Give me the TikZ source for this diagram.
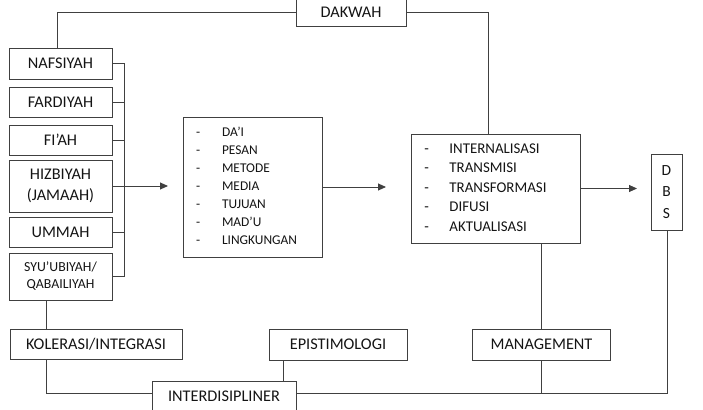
\documentclass[tikz,border=0pt]{standalone}
\usepackage{fontspec}
\setmainfont{Carlito}
\usetikzlibrary{arrows.meta,calc,positioning}
\definecolor{DiagramLine}{RGB}{64,64,64}
\definecolor{DiagramText}{RGB}{20,20,20}

\begin{document}
\begin{tikzpicture}[x=1pt, y=-1pt, node distance=8pt, >={Triangle[length=8pt,width=7pt]}]
    \tikzstyle{box}=[draw=DiagramLine, line width=0.9pt, inner sep=0pt, outer sep=0pt, align=center, text=DiagramText, font=\fontsize{16.3}{21}\selectfont]
    \tikzstyle{side}=[box, minimum width=103pt, minimum height=30pt]
    \tikzstyle{link}=[draw=DiagramLine, line width=0.9pt]
    \useasboundingbox (0,0) rectangle (703,409);

    \node[box, minimum width=110pt, minimum height=27pt] (dakwah) at (351,12.5) {DAKWAH};

    \node[side, minimum height=31pt] (nafs) at (60.5,63.5) {NAFSIYAH};
    \node[side, below=of nafs] (fard) {FARDIYAH};
    \node[side, below=of fard] (fiah) {FI’AH};
    \node[side, minimum height=52pt, below=5pt of fiah] (hizb) {HIZBIYAH\\(JAMAAH)};
    \node[side, below=5pt of hizb] (ummah) {UMMAH};
    \node[side, minimum height=47pt, below=6pt of ummah, font=\fontsize{13.8}{17}\selectfont] (syu) {SYU’UBIYAH/\\QABAILIYAH};

    \node[box, minimum width=139pt, minimum height=140pt, font=\fontsize{13.4}{18}\selectfont] (unsur) at (252.5,187) {\begin{tabular}{@{}p{26pt}@{}l@{\hspace{12pt}}}
        - & DA’I\\
        - & PESAN\\
        - & METODE\\
        - & MEDIA\\
        - & TUJUAN\\
        - & MAD’U\\
        - & LINGKUNGAN
    \end{tabular}};
    \node[box, minimum width=169pt, minimum height=109pt, font=\fontsize{14.9}{19.5}\selectfont] (proses) at (495.5,188.5) {\begin{tabular}{@{}p{25pt}@{}l@{\hspace{20pt}}}
        - & INTERNALISASI\\
        - & TRANSMISI\\
        - & TRANSFORMASI\\
        - & DIFUSI\\
        - & AKTUALISASI
    \end{tabular}};
    \node[box, minimum width=31pt, minimum height=76pt, font=\fontsize{15.5}{21.5}\selectfont] (dbs) at (666.5,192) {D\\B\\S};

    \node[box, minimum width=172pt, minimum height=30pt] (kolerasi) at (96,344) {KOLERASI/INTEGRASI};
    \node[box, minimum width=138pt, minimum height=31pt] (epis) at (338,344.5) {EPISTIMOLOGI};
    \node[box, minimum width=138pt, minimum height=31pt] (manag) at (541.5,344.5) {MANAGEMENT};
    \node[box, minimum width=144pt, minimum height=31pt] (inter) at (224,396.5) {INTERDISIPLINER};

    % bend points of the connectors
    \coordinate (topL) at (57,12);
    \coordinate (topR) at (488,12);
    \coordinate (brk) at (124,63.5);
    \coordinate (botL) at (46,393.5);
    \coordinate (botR) at (667,393.5);
    \coordinate (epiX) at (283,0);

    \draw[link] (dakwah.west |- topL) -| (nafs.north -| topL);
    \draw[link] (dakwah.east |- topR) -| (proses.north -| topR);

    \foreach \n in {nafs,fard,fiah,ummah,syu}
        \draw[link] (\n.east) -- (\n.east -| brk);
    \draw[link] (nafs.east -| brk) -- (syu.east -| brk);

    \draw[link, ->, shorten >=15pt] (hizb.east) -- (unsur.west |- hizb.east);
    \draw[link, ->, shorten >=25pt] (unsur.east) -- (proses.west |- unsur.east);
    \draw[link, ->, shorten >=14pt] (proses.east) -- (dbs.west |- proses.east);

    \draw[link] (syu.south -| botL) -- (kolerasi.north -| botL);
    \draw[link] (kolerasi.south -| botL) |- (inter.west |- botL);
    \draw[link] (epis.south -| epiX) -- (inter.north -| epiX);
    \draw[link] (proses.south -| manag.north) -- (manag.north);
    \draw[link] (manag.south) -- (manag.south |- botR);
    \draw[link] (inter.east |- botR) -| (dbs.south -| botR);
\end{tikzpicture}
\end{document}
